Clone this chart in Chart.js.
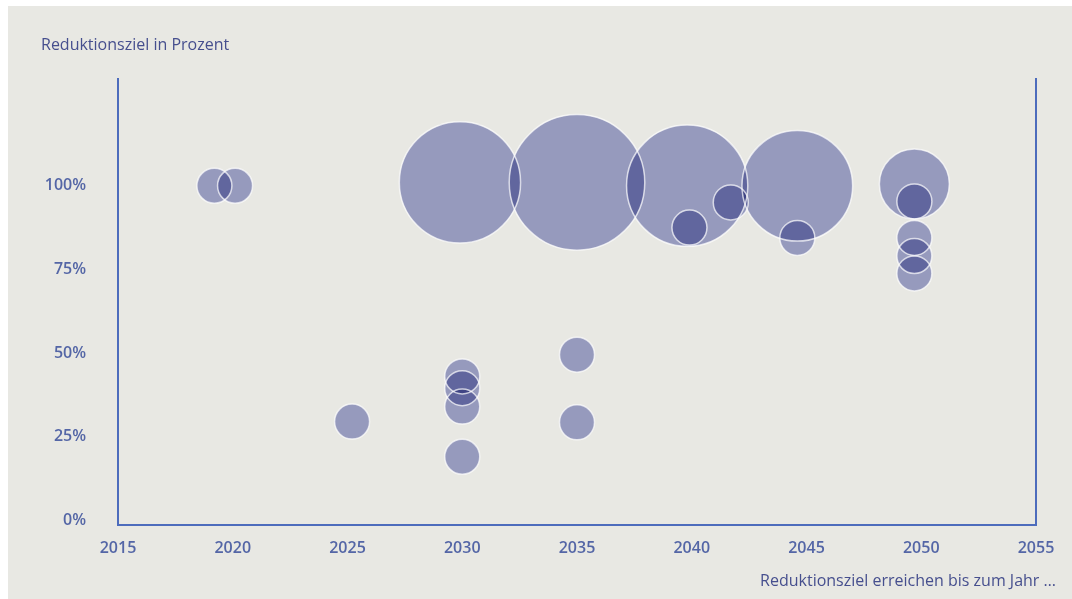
<!DOCTYPE html>
<html>
<head>
<meta charset="utf-8">
<script src="https://cdn.jsdelivr.net/npm/chart.js@4"></script>
<style>
  html, body { margin: 0; padding: 0; background: #ffffff; }
  #wrap { position: relative; width: 1072px; height: 599px; }
  .label { position: absolute; font-family: "Open Sans", sans-serif; font-size: 16px; color: #464f8e; white-space: nowrap; line-height: 20px; }
  #ytitle { left: 41px; top: 34px; }
  #xtitle { right: 16px; top: 570px; }
</style>
</head>
<body>
<div id="wrap">
  <canvas id="chart" width="1072" height="599"></canvas>
  <div class="label" id="ytitle">Reduktionsziel in Prozent</div>
  <div class="label" id="xtitle">Reduktionsziel erreichen bis zum Jahr …</div>
</div>
<script>
// Jahr, Reduktionsziel (%), Anzahl (Fläche der Blase)
const years   = [2019.2, 2020.1, 2025.2, 2029.9, 2030, 2030, 2030, 2030, 2035, 2035, 2035,
                 2039.8, 2039.9, 2041.7, 2044.6, 2044.6, 2049.7, 2049.7, 2049.7, 2049.7, 2049.7];
const targets = [100, 100, 29.5, 101, 43, 39.5, 34, 19, 101, 49.5, 29.3,
                 100, 87.5, 95, 100, 84.4, 100.5, 95.3, 84.4, 79, 73.8];
const counts  = [1, 1, 1, 12, 1, 1, 1, 1, 15, 1, 1,
                 12, 1, 1, 10, 1, 4, 1, 1, 1, 1];
const yTicks = [0, 25, 50, 75, 100];

const points = years.map((x, i) => ({x: x, y: targets[i], n: counts[i]}));
const radius = c => 17.5 * Math.sqrt(c.raw.n);

const tickFont = {family: "Open Sans", size: 16, weight: "600"};
const tickColor = "#5466a6";
const axisColor = "#4d6cbc";

const blend = {
    id: 'blend',
    beforeDraw(chart) {
        const ctx = chart.ctx;
        ctx.save();
        ctx.fillStyle = "#e8e8e3";
        ctx.fillRect(8, 6, chart.width - 8, chart.height - 6);
        ctx.restore();
    },
    beforeDatasetDraw(chart, args) {
        if (args.index === 0) {
            chart.ctx.save();
            chart.ctx.globalCompositeOperation = 'multiply';
        }
    },
    afterDatasetDraw(chart, args) {
        if (args.index === 0)
            chart.ctx.restore();
    }
};

new Chart(document.getElementById('chart'), {
    type: 'bubble',
    data: {
        datasets: [
            {
                data: points,
                backgroundColor: "#a5a9d5",
                borderWidth: 0,
                radius: radius,
                clip: false,
                order: 2
            },
            {
                data: points,
                backgroundColor: "rgba(0,0,0,0)",
                borderColor: "rgba(255,255,255,0.7)",
                borderWidth: 1.5,
                radius: radius,
                clip: false,
                order: 1
            }
        ]
    },
    options: {
        responsive: false,
        animation: false,
        events: [],
        layout: {autoPadding: false, padding: {top: 79, right: 36, left: 0, bottom: 0}},
        plugins: {legend: {display: false}, tooltip: {enabled: false}},
        scales: {
            x: {
                type: 'linear',
                min: 2015,
                max: 2055,
                grid: {display: false, drawTicks: false},
                border: {display: true, color: axisColor, width: 2},
                ticks: {stepSize: 5, padding: 14, maxRotation: 0, color: tickColor, font: tickFont,
                        callback: v => String(v)},
                afterFit: s => {
                    s.height = 74;
                    s.paddingLeft = 0;
                    s.paddingRight = 0;
                }
            },
            y: {
                type: 'linear',
                min: -1.4,
                max: 131.9,
                grid: {display: false, drawTicks: false},
                border: {display: true, color: axisColor, width: 2},
                ticks: {padding: 32, color: tickColor, font: tickFont,
                        callback: v => v + '%'},
                afterBuildTicks: s => { s.ticks = yTicks.map(v => ({value: v})); },
                afterFit: s => { s.width = 118; }
            },
            y2: {
                type: 'linear',
                position: 'right',
                min: -1.4,
                max: 131.9,
                grid: {display: false, drawTicks: false},
                border: {display: true, color: axisColor, width: 2},
                ticks: {display: false},
                afterFit: s => { s.width = 0; }
            }
        }
    },
    plugins: [blend]
});
</script>
</body>
</html>
